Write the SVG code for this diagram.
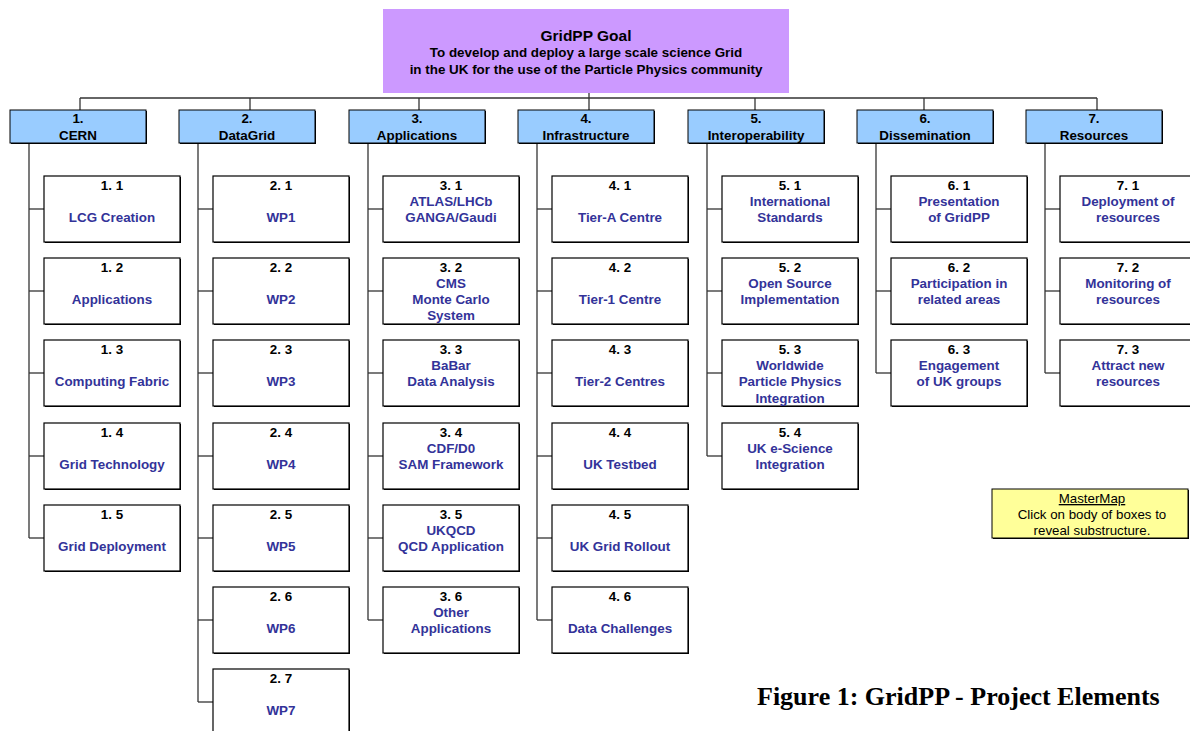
<svg xmlns="http://www.w3.org/2000/svg" width="1190" height="731" viewBox="0 0 1190 731">
<style>
text{font-family:"Liberation Sans",Arial,sans-serif;font-weight:bold;font-size:13.4px;text-anchor:middle}
.goal{fill:#cc99ff}
.sh{fill:#000}
.hdr{fill:#99ccff;stroke:#000;stroke-width:1}
.box{fill:#fff;stroke:#000;stroke-width:1.2}
.num{fill:#000}
.lbl{fill:#333399}
.conn line{stroke:#333;stroke-width:1.3}
.note{fill:#ffff99;stroke:#000;stroke-width:1}
.nt{font-weight:normal;fill:#000;font-size:13.3px}
.cap{font-family:"Liberation Serif","Times New Roman",serif;font-size:26px;font-weight:bold;text-anchor:start;fill:#000}
</style>
<defs>
<g id="shB"><rect x="1" y="1" width="136" height="66" class="sh"/></g>
</defs>

<g id="connectors" class="conn">
<line x1="589" y1="93" x2="589" y2="110"/>
<line x1="80" y1="98" x2="1097" y2="98"/>
<line x1="80" y1="98" x2="80" y2="110"/>
<line x1="250" y1="98" x2="250" y2="110"/>
<line x1="419" y1="98" x2="419" y2="110"/>
<line x1="755" y1="98" x2="755" y2="110"/>
<line x1="924" y1="98" x2="924" y2="110"/>
<line x1="1097" y1="98" x2="1097" y2="110"/>
<line x1="29" y1="143" x2="29" y2="538"/>
<line x1="198" y1="143" x2="198" y2="702"/>
<line x1="368" y1="143" x2="368" y2="620"/>
<line x1="537" y1="143" x2="537" y2="620"/>
<line x1="707" y1="143" x2="707" y2="456"/>
<line x1="876" y1="143" x2="876" y2="373"/>
<line x1="1045" y1="143" x2="1045" y2="373"/>
<line x1="29" y1="209" x2="44" y2="209"/><line x1="29" y1="291" x2="44" y2="291"/><line x1="29" y1="373" x2="44" y2="373"/><line x1="29" y1="456" x2="44" y2="456"/><line x1="29" y1="538" x2="44" y2="538"/>
<line x1="198" y1="209" x2="213" y2="209"/><line x1="198" y1="291" x2="213" y2="291"/><line x1="198" y1="373" x2="213" y2="373"/><line x1="198" y1="456" x2="213" y2="456"/><line x1="198" y1="538" x2="213" y2="538"/><line x1="198" y1="620" x2="213" y2="620"/><line x1="198" y1="702" x2="213" y2="702"/>
<line x1="368" y1="209" x2="383" y2="209"/><line x1="368" y1="291" x2="383" y2="291"/><line x1="368" y1="373" x2="383" y2="373"/><line x1="368" y1="456" x2="383" y2="456"/><line x1="368" y1="538" x2="383" y2="538"/><line x1="368" y1="620" x2="383" y2="620"/>
<line x1="537" y1="209" x2="552" y2="209"/><line x1="537" y1="291" x2="552" y2="291"/><line x1="537" y1="373" x2="552" y2="373"/><line x1="537" y1="456" x2="552" y2="456"/><line x1="537" y1="538" x2="552" y2="538"/><line x1="537" y1="620" x2="552" y2="620"/>
<line x1="707" y1="209" x2="722" y2="209"/><line x1="707" y1="291" x2="722" y2="291"/><line x1="707" y1="373" x2="722" y2="373"/><line x1="707" y1="456" x2="722" y2="456"/>
<line x1="876" y1="209" x2="891" y2="209"/><line x1="876" y1="291" x2="891" y2="291"/><line x1="876" y1="373" x2="891" y2="373"/>
<line x1="1045" y1="209" x2="1060" y2="209"/><line x1="1045" y1="291" x2="1060" y2="291"/><line x1="1045" y1="373" x2="1060" y2="373"/>
</g>

<g id="goal">
<rect x="383" y="9" width="406" height="84" class="goal"/>
<text x="586" y="41" style="font-size:15.5px">GridPP Goal</text>
<text x="586" y="57">To develop and deploy a large scale science Grid</text>
<text x="586" y="74">in the UK for the use of the Particle Physics community</text>
</g>

<g id="h1"><rect x="11" y="111" width="136" height="33" class="sh"/><rect x="10" y="110" width="136" height="33" class="hdr"/><text x="78" y="123" class="num">1.</text><text x="78" y="140" class="num">CERN</text></g>
<g id="h2"><rect x="180" y="111" width="136" height="33" class="sh"/><rect x="179" y="110" width="136" height="33" class="hdr"/><text x="247" y="123" class="num">2.</text><text x="247" y="140" class="num">DataGrid</text></g>
<g id="h3"><rect x="350" y="111" width="136" height="33" class="sh"/><rect x="349" y="110" width="136" height="33" class="hdr"/><text x="417" y="123" class="num">3.</text><text x="417" y="140" class="num">Applications</text></g>
<g id="h4"><rect x="519" y="111" width="136" height="33" class="sh"/><rect x="518" y="110" width="136" height="33" class="hdr"/><text x="586" y="123" class="num">4.</text><text x="586" y="140" class="num">Infrastructure</text></g>
<g id="h5"><rect x="689" y="111" width="136" height="33" class="sh"/><rect x="688" y="110" width="136" height="33" class="hdr"/><text x="756" y="123" class="num">5.</text><text x="756" y="140" class="num">Interoperability</text></g>
<g id="h6"><rect x="858" y="111" width="136" height="33" class="sh"/><rect x="857" y="110" width="136" height="33" class="hdr"/><text x="925" y="123" class="num">6.</text><text x="925" y="140" class="num">Dissemination</text></g>
<g id="h7"><rect x="1027" y="111" width="136" height="33" class="sh"/><rect x="1026" y="110" width="136" height="33" class="hdr"/><text x="1094" y="123" class="num">7.</text><text x="1094" y="140" class="num">Resources</text></g>

<g id="n1_1"><use href="#shB" x="44" y="176"/><rect x="44" y="176" width="136" height="66" class="box"/><text x="112" y="190" class="num">1. 1</text><text x="112" y="222" class="lbl">LCG Creation</text></g>
<g id="n1_2"><use href="#shB" x="44" y="258"/><rect x="44" y="258" width="136" height="66" class="box"/><text x="112" y="272" class="num">1. 2</text><text x="112" y="304" class="lbl">Applications</text></g>
<g id="n1_3"><use href="#shB" x="44" y="340"/><rect x="44" y="340" width="136" height="66" class="box"/><text x="112" y="354" class="num">1. 3</text><text x="112" y="386" class="lbl">Computing Fabric</text></g>
<g id="n1_4"><use href="#shB" x="44" y="423"/><rect x="44" y="423" width="136" height="66" class="box"/><text x="112" y="437" class="num">1. 4</text><text x="112" y="469" class="lbl">Grid Technology</text></g>
<g id="n1_5"><use href="#shB" x="44" y="505"/><rect x="44" y="505" width="136" height="66" class="box"/><text x="112" y="519" class="num">1. 5</text><text x="112" y="551" class="lbl">Grid Deployment</text></g>

<g id="n2_1"><use href="#shB" x="213" y="176"/><rect x="213" y="176" width="136" height="66" class="box"/><text x="281" y="190" class="num">2. 1</text><text x="281" y="222" class="lbl">WP1</text></g>
<g id="n2_2"><use href="#shB" x="213" y="258"/><rect x="213" y="258" width="136" height="66" class="box"/><text x="281" y="272" class="num">2. 2</text><text x="281" y="304" class="lbl">WP2</text></g>
<g id="n2_3"><use href="#shB" x="213" y="340"/><rect x="213" y="340" width="136" height="66" class="box"/><text x="281" y="354" class="num">2. 3</text><text x="281" y="386" class="lbl">WP3</text></g>
<g id="n2_4"><use href="#shB" x="213" y="423"/><rect x="213" y="423" width="136" height="66" class="box"/><text x="281" y="437" class="num">2. 4</text><text x="281" y="469" class="lbl">WP4</text></g>
<g id="n2_5"><use href="#shB" x="213" y="505"/><rect x="213" y="505" width="136" height="66" class="box"/><text x="281" y="519" class="num">2. 5</text><text x="281" y="551" class="lbl">WP5</text></g>
<g id="n2_6"><use href="#shB" x="213" y="587"/><rect x="213" y="587" width="136" height="66" class="box"/><text x="281" y="601" class="num">2. 6</text><text x="281" y="633" class="lbl">WP6</text></g>
<g id="n2_7"><use href="#shB" x="213" y="669"/><rect x="213" y="669" width="136" height="66" class="box"/><text x="281" y="683" class="num">2. 7</text><text x="281" y="715" class="lbl">WP7</text></g>

<g id="n3_1"><use href="#shB" x="383" y="176"/><rect x="383" y="176" width="136" height="66" class="box"/><text x="451" y="190" class="num">3. 1</text><text x="451" y="206" class="lbl">ATLAS/LHCb</text><text x="451" y="222" class="lbl">GANGA/Gaudi</text></g>
<g id="n3_2"><use href="#shB" x="383" y="258"/><rect x="383" y="258" width="136" height="66" class="box"/><text x="451" y="272" class="num">3. 2</text><text x="451" y="288" class="lbl">CMS</text><text x="451" y="304" class="lbl">Monte Carlo</text><text x="451" y="320" class="lbl">System</text></g>
<g id="n3_3"><use href="#shB" x="383" y="340"/><rect x="383" y="340" width="136" height="66" class="box"/><text x="451" y="354" class="num">3. 3</text><text x="451" y="370" class="lbl">BaBar</text><text x="451" y="386" class="lbl">Data Analysis</text></g>
<g id="n3_4"><use href="#shB" x="383" y="423"/><rect x="383" y="423" width="136" height="66" class="box"/><text x="451" y="437" class="num">3. 4</text><text x="451" y="453" class="lbl">CDF/D0</text><text x="451" y="469" class="lbl">SAM Framework</text></g>
<g id="n3_5"><use href="#shB" x="383" y="505"/><rect x="383" y="505" width="136" height="66" class="box"/><text x="451" y="519" class="num">3. 5</text><text x="451" y="535" class="lbl">UKQCD</text><text x="451" y="551" class="lbl">QCD Application</text></g>
<g id="n3_6"><use href="#shB" x="383" y="587"/><rect x="383" y="587" width="136" height="66" class="box"/><text x="451" y="601" class="num">3. 6</text><text x="451" y="617" class="lbl">Other</text><text x="451" y="633" class="lbl">Applications</text></g>

<g id="n4_1"><use href="#shB" x="552" y="176"/><rect x="552" y="176" width="136" height="66" class="box"/><text x="620" y="190" class="num">4. 1</text><text x="620" y="222" class="lbl">Tier-A Centre</text></g>
<g id="n4_2"><use href="#shB" x="552" y="258"/><rect x="552" y="258" width="136" height="66" class="box"/><text x="620" y="272" class="num">4. 2</text><text x="620" y="304" class="lbl">Tier-1 Centre</text></g>
<g id="n4_3"><use href="#shB" x="552" y="340"/><rect x="552" y="340" width="136" height="66" class="box"/><text x="620" y="354" class="num">4. 3</text><text x="620" y="386" class="lbl">Tier-2 Centres</text></g>
<g id="n4_4"><use href="#shB" x="552" y="423"/><rect x="552" y="423" width="136" height="66" class="box"/><text x="620" y="437" class="num">4. 4</text><text x="620" y="469" class="lbl">UK Testbed</text></g>
<g id="n4_5"><use href="#shB" x="552" y="505"/><rect x="552" y="505" width="136" height="66" class="box"/><text x="620" y="519" class="num">4. 5</text><text x="620" y="551" class="lbl">UK Grid Rollout</text></g>
<g id="n4_6"><use href="#shB" x="552" y="587"/><rect x="552" y="587" width="136" height="66" class="box"/><text x="620" y="601" class="num">4. 6</text><text x="620" y="633" class="lbl">Data Challenges</text></g>

<g id="n5_1"><use href="#shB" x="722" y="176"/><rect x="722" y="176" width="136" height="66" class="box"/><text x="790" y="190" class="num">5. 1</text><text x="790" y="206" class="lbl">International</text><text x="790" y="222" class="lbl">Standards</text></g>
<g id="n5_2"><use href="#shB" x="722" y="258"/><rect x="722" y="258" width="136" height="66" class="box"/><text x="790" y="272" class="num">5. 2</text><text x="790" y="288" class="lbl">Open Source</text><text x="790" y="304" class="lbl">Implementation</text></g>
<g id="n5_3"><use href="#shB" x="722" y="340"/><rect x="722" y="340" width="136" height="66" class="box"/><text x="790" y="354" class="num">5. 3</text><text x="790" y="370" class="lbl">Worldwide</text><text x="790" y="386" class="lbl">Particle Physics</text><text x="790" y="403" class="lbl">Integration</text></g>
<g id="n5_4"><use href="#shB" x="722" y="423"/><rect x="722" y="423" width="136" height="66" class="box"/><text x="790" y="437" class="num">5. 4</text><text x="790" y="453" class="lbl">UK e-Science</text><text x="790" y="469" class="lbl">Integration</text></g>

<g id="n6_1"><use href="#shB" x="891" y="176"/><rect x="891" y="176" width="136" height="66" class="box"/><text x="959" y="190" class="num">6. 1</text><text x="959" y="206" class="lbl">Presentation</text><text x="959" y="222" class="lbl">of GridPP</text></g>
<g id="n6_2"><use href="#shB" x="891" y="258"/><rect x="891" y="258" width="136" height="66" class="box"/><text x="959" y="272" class="num">6. 2</text><text x="959" y="288" class="lbl">Participation in</text><text x="959" y="304" class="lbl">related areas</text></g>
<g id="n6_3"><use href="#shB" x="891" y="340"/><rect x="891" y="340" width="136" height="66" class="box"/><text x="959" y="354" class="num">6. 3</text><text x="959" y="370" class="lbl">Engagement</text><text x="959" y="386" class="lbl">of UK groups</text></g>

<g id="n7_1"><use href="#shB" x="1060" y="176"/><rect x="1060" y="176" width="136" height="66" class="box"/><text x="1128" y="190" class="num">7. 1</text><text x="1128" y="206" class="lbl">Deployment of</text><text x="1128" y="222" class="lbl">resources</text></g>
<g id="n7_2"><use href="#shB" x="1060" y="258"/><rect x="1060" y="258" width="136" height="66" class="box"/><text x="1128" y="272" class="num">7. 2</text><text x="1128" y="288" class="lbl">Monitoring of</text><text x="1128" y="304" class="lbl">resources</text></g>
<g id="n7_3"><use href="#shB" x="1060" y="340"/><rect x="1060" y="340" width="136" height="66" class="box"/><text x="1128" y="354" class="num">7. 3</text><text x="1128" y="370" class="lbl">Attract new</text><text x="1128" y="386" class="lbl">resources</text></g>

<g id="mastermap">
<rect x="993" y="490" width="196" height="49" class="sh"/>
<rect x="992" y="489" width="196" height="49" class="note"/>
<text x="1092" y="503" class="nt" text-decoration="underline">MasterMap</text>
<text x="1092" y="519" class="nt">Click on body of boxes to</text>
<text x="1092" y="535" class="nt">reveal substructure.</text>
</g>

<text x="757" y="705" class="cap">Figure 1: GridPP - Project Elements</text>
</svg>
